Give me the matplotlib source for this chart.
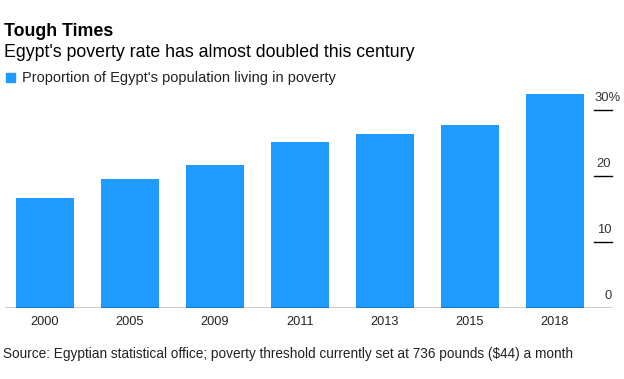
import matplotlib
matplotlib.use("Agg")
import matplotlib.pyplot as plt
import matplotlib.transforms as mtransforms
from matplotlib.patches import Rectangle

# data
years = ["2000", "2005", "2009", "2011", "2013", "2015", "2018"]
poverty = [16.7, 19.6, 21.6, 25.2, 26.3, 27.8, 32.5]
yticks = [0, 10, 20, 30]
ytick_labels = ["0", "10", "20", "30%"]

BLUE = "#1f9bff"
W, H = 624, 379

plt.rcParams['font.family'] = ['Liberation Sans', 'DejaVu Sans']

fig = plt.figure(figsize=(W / 100, H / 100), dpi=100)

def fy(px):
    # pixel from top -> figure fraction
    return 1 - px / H

# axes placed in pixels: x 5..612, y 88..308
ax = fig.add_axes([5 / W, fy(308), (612 - 5) / W, (308 - 88) / H])
x = list(range(len(years)))
ax.bar(x, poverty, width=0.682, color=BLUE, zorder=2)
ax.set_xlim(-0.47, 6.67)
ax.set_ylim(0, 220 / 6.6)

for s in ax.spines.values():
    s.set_visible(False)
ax.axhline(0, color="black", lw=1.0, zorder=3)

ax.set_xticks(x)
ax.set_xticklabels(years, fontsize=9.2, color="#222222")
ax.tick_params(axis="x", length=0, pad=5.5)
ax.set_yticks([])

# right-hand value ticks: short lines with labels sitting above them
trans = mtransforms.blended_transform_factory(ax.transAxes, ax.transData)
for v, lab in zip(yticks, ytick_labels):
    if v > 0:
        ax.plot([0.970, 1.0], [v, v], transform=trans, color="black",
                lw=1.0, clip_on=False)
    if lab.endswith("%"):
        # top label: the % sign hangs past the right edge
        ax.annotate(lab, xy=(0.9705, v), xycoords=trans, xytext=(0, 6.8),
                    textcoords="offset points", ha="left", va="baseline",
                    fontsize=9.4, color="#333333")
    else:
        ax.annotate(lab, xy=(1.0, v), xycoords=trans, xytext=(-0.5, 6.8),
                    textcoords="offset points", ha="right", va="baseline",
                    fontsize=9.4, color="#333333")

# titles
fig.text(4 / W, fy(36), "Tough Times", fontsize=12.8, fontweight="bold",
         va="baseline", ha="left", color="black")
fig.text(4 / W, fy(57), "Egypt's poverty rate has almost doubled this century",
         fontsize=12.8, va="baseline", ha="left", color="black")

# legend
fig.patches.append(Rectangle((6 / W, fy(82)), 9 / W, 9 / H,
                             transform=fig.transFigure, color=BLUE))
fig.text(22 / W, fy(82), "Proportion of Egypt's population living in poverty",
         fontsize=10.5, va="baseline", ha="left", color="#222222")

# source
fig.text(3 / W, fy(358),
         "Source: Egyptian statistical office; poverty threshold currently set at 736 pounds ($44) a month",
         fontsize=9.8, va="baseline", ha="left", color="#222222")

fig.savefig("out.png", dpi=100)
